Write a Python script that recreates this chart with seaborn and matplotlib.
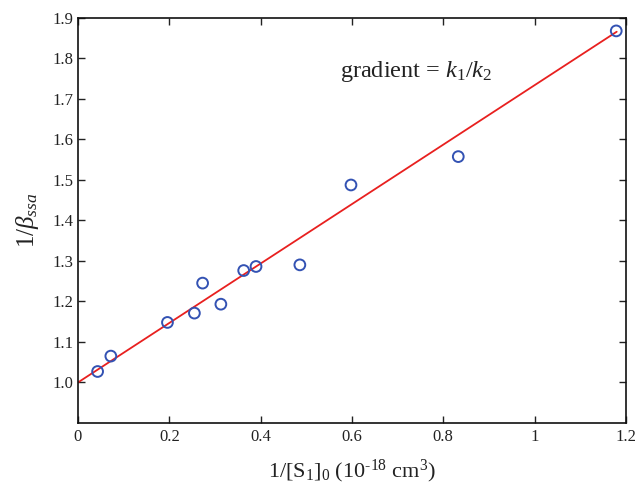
import numpy as np
import pandas as pd
import matplotlib
matplotlib.use("Agg")
import matplotlib.pyplot as plt
import seaborn as sns

# Measured points: inverse initial S1 density vs inverse steady-state beta
inv_s1 = [0.043, 0.072, 0.196, 0.255, 0.273, 0.313, 0.363, 0.390, 0.486, 0.598, 0.833, 1.179]
inv_beta = [1.027, 1.065, 1.148, 1.171, 1.245, 1.193, 1.276, 1.286, 1.290, 1.487, 1.557, 1.867]

# Linear fit parameters (intercept, slope) and the span it is drawn over
fit_intercept = 1.0
fit_slope = 0.733
fit_x = [0.0, 1.18]

x_ticks = [0, 0.2, 0.4, 0.6, 0.8, 1.0, 1.2]
x_tick_labels = ["0", "0.2", "0.4", "0.6", "0.8", "1", "1.2"]
y_ticks = [1.0, 1.1, 1.2, 1.3, 1.4, 1.5, 1.6, 1.7, 1.8, 1.9]

sns.set_style("ticks")
plt.rcParams["font.family"] = ["Liberation Serif", "DejaVu Serif"]
plt.rcParams["mathtext.fontset"] = "custom"
plt.rcParams["mathtext.rm"] = "Liberation Serif"
plt.rcParams["mathtext.it"] = "Liberation Serif:italic"
plt.rcParams["mathtext.bf"] = "Liberation Serif:bold"

fig = plt.figure(figsize=(6.36, 4.88), dpi=100)
ax = fig.add_axes([0.1226, 0.1332, 0.8614, 0.8309])

pts = pd.DataFrame({"x": inv_s1, "y": inv_beta})
fit = pd.DataFrame({"x": fit_x,
                    "y": [fit_intercept + fit_slope * v for v in fit_x]})

sns.lineplot(data=fit, x="x", y="y", ax=ax, color="#e8201f", linewidth=1.3)
sns.scatterplot(data=pts, x="x", y="y", ax=ax, marker="o", s=60,
                facecolor="none", edgecolor="#3352b3", linewidth=1.4, zorder=3)

ax.set_xlim(0, 1.2)
ax.set_ylim(0.9, 1.9)
ax.set_xticks(x_ticks)
ax.set_xticklabels(x_tick_labels)
ax.set_yticks(y_ticks)
ax.set_yticklabels([f"{v:.1f}" for v in y_ticks])
ax.tick_params(direction="in", length=5, width=1, top=True, right=True,
               labelsize=12, colors="#222222")
ax.tick_params(axis="x", pad=4.5)
ax.tick_params(axis="y", pad=3.5)
for sp in ax.spines.values():
    sp.set_visible(True)
    sp.set_linewidth(1.2)
    sp.set_color("#111111")

ax.set_xlabel(r"1/[S$_1$]$_0$ (10$^{\text{-}18}$ cm$^3$)", fontsize=16, labelpad=9,
              color="#222222")
ax.set_ylabel(r"1/$\beta_{ssa}$", fontsize=18, labelpad=8, color="#222222")

ax.text(0.575, 1.753, r"gradient = $k_\mathit{1}/k_\mathit{2}$", fontsize=17.5,
        color="#222222")

fig.savefig("out.png", dpi=100)
